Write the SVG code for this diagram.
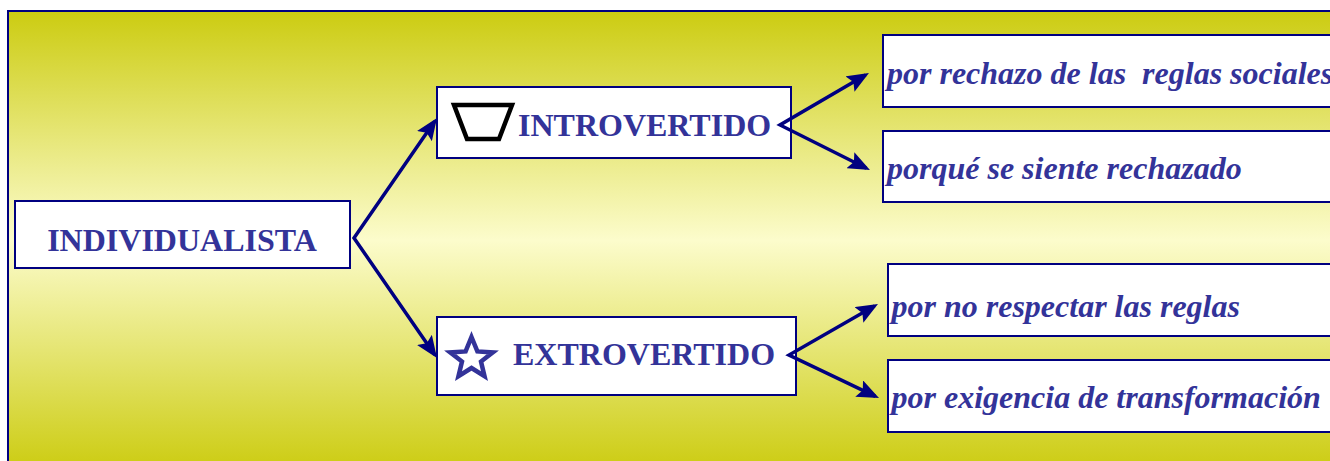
<svg xmlns="http://www.w3.org/2000/svg" width="1330" height="461" viewBox="0 0 1330 461">
  <defs>
    <linearGradient id="bg" gradientUnits="userSpaceOnUse" x1="0" y1="11" x2="0" y2="470">
      <stop offset="0" stop-color="#cccc11"/>
      <stop offset="0.5" stop-color="#fcfccc"/>
      <stop offset="1" stop-color="#cccc11"/>
    </linearGradient>
    <marker id="arr" viewBox="0 0 22 18" refX="18" refY="9" markerWidth="22" markerHeight="18" markerUnits="userSpaceOnUse" orient="auto-start-reverse">
      <path d="M0,0 L22,9 L0,18 L4,9 z" fill="#000080"/>
    </marker>
    <style>
      .box { fill: #ffffff; stroke: #000080; stroke-width: 2; }
      .lbl { font-family: "Liberation Serif", "Times New Roman", serif; font-weight: bold; font-size: 32px; fill: #333399; }
      .it { font-style: italic; }
      .conn { fill: none; stroke: #000080; stroke-width: 3.5; stroke-linejoin: miter; marker-start: url(#arr); marker-end: url(#arr); }
    </style>
  </defs>

  <rect id="background" x="8" y="11" width="1340" height="470" fill="url(#bg)" stroke="#000080" stroke-width="2"/>

  <g id="individualista">
    <rect class="box" x="15" y="201" width="335" height="67"/>
    <text class="lbl" x="182" y="250.5" text-anchor="middle">INDIVIDUALISTA</text>
  </g>

  <g id="introvertido">
    <rect class="box" x="437" y="87" width="354" height="71"/>
    <path d="M454,105 L512,105 L499,139 L467,139 Z" fill="none" stroke="#000000" stroke-width="4.5" stroke-linejoin="miter"/>
    <text class="lbl" x="518" y="135.5">INTROVERTIDO</text>
  </g>

  <g id="extrovertido">
    <rect class="box" x="437" y="317" width="359" height="78"/>
    <polygon points="471.5,337 477.38,351.41 492.87,352.39 481.01,361.59 484.52,376.11 471.5,368 458.48,376.11 461.99,361.59 450.13,352.39 465.62,351.41" fill="#ffffff" stroke="#333399" stroke-width="4.5"/>
    <text class="lbl" x="513" y="365">EXTROVERTIDO</text>
  </g>

  <g id="rechazo-reglas">
    <rect class="box" x="883" y="35" width="460" height="72"/>
    <text class="lbl it" x="887" y="84" xml:space="preserve">por rechazo de las  reglas sociales</text>
  </g>

  <g id="se-siente-rechazado">
    <rect class="box" x="883" y="131" width="460" height="71"/>
    <text class="lbl it" x="887" y="179">porqué se siente rechazado</text>
  </g>

  <g id="no-respectar">
    <rect class="box" x="888" y="264" width="460" height="72"/>
    <text class="lbl it" x="891.5" y="316.5">por no respectar las reglas</text>
  </g>

  <g id="exigencia">
    <rect class="box" x="888" y="360" width="460" height="72"/>
    <text class="lbl it" x="891.5" y="408">por exigencia de transformación</text>
  </g>

  <g id="connectors">
    <path class="conn" d="M434.7,121.3 L354,238 L434.7,354.7"/>
    <path class="conn" d="M865.5,75 L780,125 L866.4,168.3"/>
    <path class="conn" d="M874.5,306 L789,355 L875.4,396.3"/>
  </g>
</svg>
